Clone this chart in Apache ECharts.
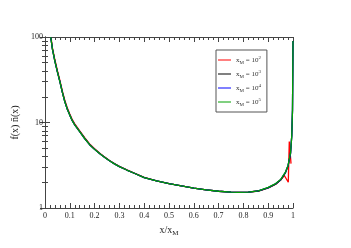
<!DOCTYPE html>
<html>
<head>
<meta charset="utf-8">
<script src="https://cdn.jsdelivr.net/npm/echarts@6/dist/echarts.min.js"></script>
<style>
  html, body { margin: 0; padding: 0; background: #fff; }
  #chart { width: 351px; height: 248px; }
</style>
</head>
<body>
<div id="chart"></div>
<script>
// x/x_M positions, shared by the three large-x_M curves
var xs = [0.023, 0.03, 0.04, 0.05, 0.06, 0.07, 0.08, 0.09, 0.1, 0.11, 0.12, 0.14, 0.16, 0.18, 0.2,
          0.22, 0.24, 0.26, 0.28, 0.3, 0.33, 0.36, 0.4, 0.45, 0.5, 0.55, 0.6, 0.65, 0.7, 0.75,
          0.78, 0.82, 0.86, 0.9, 0.93, 0.95, 0.97, 0.98, 0.99, 0.995, 0.998, 1.0];
var black = [100, 72, 52, 39, 30, 22.5, 17.5, 14.3, 12.2, 10.5, 9.4, 7.8, 6.5, 5.5, 4.85,
             4.35, 3.92, 3.57, 3.28, 3.05, 2.78, 2.55, 2.27, 2.07, 1.93, 1.81, 1.71, 1.63, 1.57, 1.53,
             1.52, 1.53, 1.58, 1.72, 1.9, 2.12, 2.6, 3.1, 4.3, 7, 14, 90];
var blue  = [100, 72, 52, 39, 30, 22.5, 17.5, 14.3, 12.2, 10.5, 9.4, 7.8, 6.5, 5.5, 4.85,
             4.35, 3.92, 3.57, 3.28, 3.05, 2.78, 2.55, 2.27, 2.07, 1.93, 1.81, 1.71, 1.63, 1.57, 1.53,
             1.52, 1.53, 1.59, 1.73, 1.92, 2.14, 2.63, 3.12, 4.35, 7, 14, 90];
var green = [100, 72, 52, 39, 30, 22.5, 17.5, 14.3, 12.2, 10.5, 9.4, 7.8, 6.5, 5.5, 4.85,
             4.35, 3.92, 3.57, 3.28, 3.05, 2.78, 2.55, 2.27, 2.07, 1.93, 1.81, 1.71, 1.63, 1.57, 1.53,
             1.52, 1.53, 1.59, 1.74, 1.93, 2.15, 2.65, 3.15, 4.4, 7, 14, 90];
// x_M = 10^2 has its own grid near x = 1
var xsRed = [0.024, 0.03, 0.04, 0.05, 0.06, 0.07, 0.08, 0.09, 0.1, 0.11, 0.12, 0.14, 0.16, 0.18, 0.2,
             0.22, 0.24, 0.26, 0.28, 0.3, 0.33, 0.36, 0.4, 0.45, 0.5, 0.55, 0.6, 0.65, 0.7, 0.75,
             0.78, 0.82, 0.86, 0.9, 0.93, 0.95, 0.965, 0.981, 0.985, 0.992, 0.992];
var red = [100, 74.5, 53.8, 40.3, 31, 23.3, 18.1, 14.8, 12.6, 10.8, 9.65, 8.0, 6.65, 5.62, 4.93,
           4.4, 3.96, 3.6, 3.3, 3.07, 2.79, 2.56, 2.28, 2.07, 1.93, 1.81, 1.71, 1.63, 1.57, 1.53,
           1.52, 1.53, 1.58, 1.72, 1.9, 2.12, 2.4, 2.0, 6.0, 6.0, 3.3];

var exps = ['2', '3', '4', '5'];
var colors = ['#ff0000', '#000000', '#0000ff', '#00a000'];
var yTicks = [1, 10, 100];

var font = 'Liberation Serif';

function pairs(x, y) {
    return x.map(function (v, i) { return [v, y[i]]; });
}

var seriesData = [pairs(xsRed, red), pairs(xs, black), pairs(xs, blue), pairs(xs, green)];

var myChart = echarts.init(document.getElementById('chart'));

var tickStyle = { color: '#444', width: 1 };

var option = {
    animation: false,
    textStyle: { fontFamily: font },
    grid: { left: 45, right: 58, top: 37, bottom: 40 },
    legend: {
        orient: 'vertical',
        left: 216,
        top: 50,
        width: 47,
        padding: [5, 6, 5, 2],
        itemGap: 4,
        itemWidth: 13,
        itemHeight: 1,
        icon: 'rect',
        borderColor: '#555',
        borderWidth: 1,
        data: exps.map(function (e) { return 'M' + e; }),
        formatter: function (name) {
            return '{a|x}{s|M}{a| = 10}{p|' + name.slice(1) + '}';
        },
        textStyle: {
            fontFamily: font,
            color: '#333',
            rich: {
                a: { fontSize: 7, lineHeight: 10, fontFamily: font, color: '#333' },
                s: { fontSize: 5, lineHeight: 10, verticalAlign: 'bottom', fontFamily: font, color: '#333' },
                p: { fontSize: 5, lineHeight: 10, verticalAlign: 'top', fontFamily: font, color: '#333' }
            }
        }
    },
    xAxis: [{
        type: 'value',
        min: 0,
        max: 1,
        interval: 0.1,
        name: '{a|x/x}{s|M}',
        nameLocation: 'middle',
        nameGap: 13,
        nameTextStyle: {
            rich: {
                a: { fontSize: 10, fontFamily: font, color: '#222', lineHeight: 12 },
                s: { fontSize: 7, fontFamily: font, color: '#222', verticalAlign: 'bottom', lineHeight: 14 }
            }
        },
        axisLine: { lineStyle: tickStyle },
        axisTick: { inside: true, length: 5, lineStyle: tickStyle },
        minorTick: { show: true, splitNumber: 5, length: 3, lineStyle: tickStyle },
        axisLabel: {
            fontSize: 8, fontFamily: font, color: '#222', margin: 4,
            formatter: function (v) { return v === 0 ? '0' : (v === 1 ? '1' : v.toFixed(1)); }
        },
        splitLine: { show: false }
    }, {
        type: 'value',
        position: 'top',
        min: 0,
        max: 1,
        interval: 0.1,
        axisLine: { lineStyle: tickStyle },
        axisTick: { inside: true, length: 5, lineStyle: tickStyle },
        minorTick: { show: true, splitNumber: 5, length: 3, lineStyle: tickStyle },
        axisLabel: { show: false },
        splitLine: { show: false }
    }],
    yAxis: [{
        type: 'log',
        logBase: 10,
        min: yTicks[0],
        max: yTicks[yTicks.length - 1],
        name: 'f(x) n\u0304(x)',
        nameLocation: 'middle',
        nameGap: 22,
        nameTextStyle: { fontSize: 10, fontFamily: font, color: '#222' },
        axisLine: { lineStyle: tickStyle },
        axisTick: { inside: true, length: 5, lineStyle: tickStyle },
        minorTick: { show: true, splitNumber: 9, length: 3, lineStyle: tickStyle },
        axisLabel: { fontSize: 8, fontFamily: font, color: '#222', margin: 2 },
        splitLine: { show: false }
    }, {
        type: 'log',
        logBase: 10,
        position: 'right',
        min: yTicks[0],
        max: yTicks[yTicks.length - 1],
        axisLine: { lineStyle: tickStyle },
        axisTick: { inside: true, length: 5, lineStyle: tickStyle },
        minorTick: { show: true, splitNumber: 9, length: 3, lineStyle: tickStyle },
        axisLabel: { show: false },
        splitLine: { show: false }
    }],
    series: exps.map(function (e, i) {
        return {
            name: 'M' + e,
            type: 'line',
            showSymbol: false,
            smooth: false,
            xAxisIndex: 0,
            yAxisIndex: 0,
            color: colors[i],
            lineStyle: { width: 1.3, color: colors[i] },
            data: seriesData[i]
        };
    })
};

option && myChart.setOption(option);
</script>
</body>
</html>
